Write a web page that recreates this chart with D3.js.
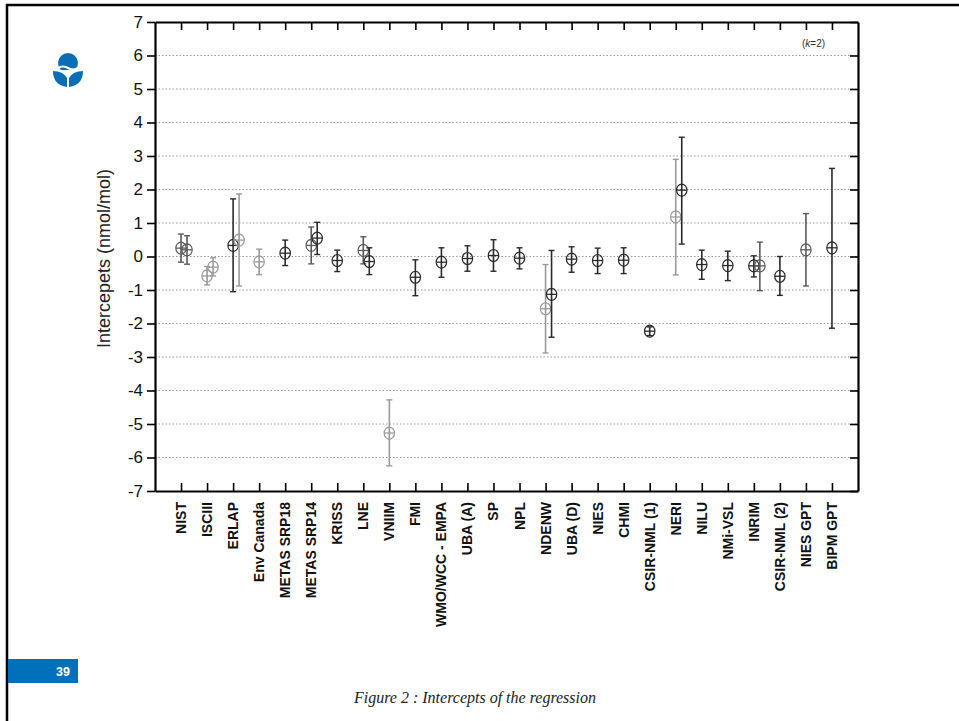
<!DOCTYPE html>
<html>
<head>
<meta charset="utf-8">
<script src="https://cdn.jsdelivr.net/npm/d3@7"></script>
<style>
  html, body { margin: 0; padding: 0; background: #fff; }
  svg { display: block; }
</style>
</head>
<body>
<svg id="chart"></svg>
<script>
// participants, in the order of the x axis
const categories = ["NIST", "ISCIII", "ERLAP", "Env Canada", "METAS SRP18", "METAS SRP14",
  "KRISS", "LNE", "VNIIM", "FMI", "WMO/WCC - EMPA", "UBA (A)", "SP", "NPL", "NDENW",
  "UBA (D)", "NIES", "CHMI", "CSIR-NML (1)", "NERI", "NILU", "NMi-VSL", "INRIM",
  "CSIR-NML (2)", "NIES GPT", "BIPM GPT"];

// first result of each participant, with its expanded uncertainty (k=2)
const value1 = [0.25, -0.58, 0.33, -0.16, 0.10, 0.33, -0.12, 0.18, -5.27, -0.62, -0.17, -0.06, 0.03,
  -0.05, -1.56, -0.08, -0.12, -0.11, -2.23, 1.18, -0.24, -0.27, -0.28, -0.59, 0.20, 0.26];
const low1 = [-0.17, -0.85, -1.05, -0.54, -0.27, -0.22, -0.45, -0.22, -6.25, -1.17, -0.62, -0.44, -0.44,
  -0.37, -2.88, -0.47, -0.51, -0.51, -2.36, -0.55, -0.68, -0.72, -0.61, -1.16, -0.88, -2.14];
const high1 = [0.67, -0.30, 1.72, 0.22, 0.49, 0.88, 0.19, 0.59, -4.28, -0.10, 0.26, 0.32, 0.50,
  0.26, -0.24, 0.29, 0.25, 0.26, -2.10, 2.90, 0.19, 0.16, 0.02, 0.00, 1.28, 2.63];
const tone1 = ["m", "g", "k", "g", "k", "m", "k", "m", "g", "k", "k", "k", "k",
  "k", "g", "k", "k", "k", "k", "g", "k", "k", "k", "k", "m", "k"];

// second result, where a participant reported two
const value2 = [0.20, -0.32, 0.49, null, null, 0.55, null, -0.15, null, null, null, null, null,
  null, -1.13, null, null, null, null, 1.98, null, null, -0.28, null, null, null];
const low2 = [-0.23, -0.58, -0.88, null, null, 0.06, null, -0.54, null, null, null, null, null,
  null, -2.41, null, null, null, null, 0.37, null, null, -1.02, null, null, null];
const high2 = [0.62, -0.04, 1.87, null, null, 1.02, null, 0.26, null, null, null, null, null,
  null, 0.18, null, null, null, null, 3.56, null, null, 0.43, null, null, null];
const tone2 = ["m", "g", "g", null, null, "k", null, "k", null, null, null, null, null,
  null, "k", null, null, null, null, "k", null, null, "m", null, null, null];

const yTicks = [-7, -6, -5, -4, -3, -2, -1, 0, 1, 2, 3, 4, 5, 6, 7];

const W = 959, H = 721;
const margin = {top: 22, right: 101, bottom: 230, left: 155};
const colors = {k: "#2a2a2a", m: "#5a5a5a", g: "#9a9a9a"};

const svg = d3.select("#chart").attr("width", W).attr("height", H);

// slide frame
svg.append("line").attr("x1", 6).attr("x2", W).attr("y1", 5).attr("y2", 5)
  .attr("stroke", "#000").attr("stroke-width", 2.5);
svg.append("line").attr("x1", 7).attr("x2", 7).attr("y1", 4).attr("y2", H)
  .attr("stroke", "#000").attr("stroke-width", 2.5);

// logo
const logo = svg.append("g").attr("transform", "translate(68,70)").attr("fill", "#0a6db5");
logo.append("circle").attr("cx", 0).attr("cy", -7).attr("r", 10);
logo.append("path").attr("d", "M-10,-2 Q-5,-5 0,-2 T10,-2").attr("stroke", "#fff")
  .attr("stroke-width", 2.2).attr("fill", "none");
logo.append("rect").attr("x", -12).attr("y", 0).attr("width", 24).attr("height", 3).attr("fill", "#fff");
logo.append("path").attr("d", "M-15,1 Q-15,15 -1,17 L-1,8 Q-5,1 -15,1 Z");
logo.append("path").attr("d", "M15,1 Q15,15 1,17 L1,8 Q5,1 15,1 Z");

// page number
svg.append("rect").attr("x", 8).attr("y", 659).attr("width", 70).attr("height", 24).attr("fill", "#0070ba");
svg.append("text").attr("x", 70).attr("y", 676).attr("text-anchor", "end")
  .attr("fill", "#fff").attr("font-family", "Liberation Sans, Arial, sans-serif")
  .attr("font-weight", "bold").attr("font-size", "12.5px").text("39");

// caption
svg.append("text").attr("x", 475).attr("y", 703).attr("text-anchor", "middle")
  .attr("font-family", "Liberation Serif, Times New Roman, serif").attr("font-style", "italic")
  .attr("font-size", "16px").attr("fill", "#222").text("Figure 2 : Intercepts of the regression");

const iw = W - margin.left - margin.right;
const ih = H - margin.top - margin.bottom;

const chart = svg.append("g").attr("transform", `translate(${margin.left},${margin.top})`);

const xscale = d3.scaleLinear().domain([0, categories.length + 1]).range([0, iw]);
const yscale = d3.scaleLinear().domain([-7, 7]).range([ih, 0]);
const catIdx = categories.map((d, i) => i + 1);

// grid
chart.append("g").selectAll("line")
  .data(yTicks.filter(t => t > -7 && t < 7))
  .join("line")
  .attr("x1", 0).attr("x2", iw)
  .attr("y1", d => yscale(d)).attr("y2", d => yscale(d))
  .attr("stroke", "#9a9a9a").attr("stroke-width", 1).attr("stroke-dasharray", "1.5,2");

// axes
const font = "Liberation Sans, Arial, sans-serif";
const yaxis = chart.append("g")
  .call(d3.axisLeft(yscale).tickValues(yTicks).tickFormat(d => String(d)).tickSize(8).tickSizeOuter(0).tickPadding(4));
yaxis.selectAll("text").attr("font-family", font).attr("font-size", "17px").attr("fill", "#111");
chart.append("g").attr("transform", `translate(${iw},0)`)
  .call(d3.axisLeft(yscale).tickValues(yTicks).tickFormat("").tickSize(8).tickSizeOuter(0));
chart.append("g").attr("transform", `translate(0,${ih})`)
  .call(d3.axisTop(xscale).tickValues(catIdx).tickFormat("").tickSize(8).tickSizeOuter(0));
chart.append("g")
  .call(d3.axisBottom(xscale).tickValues(catIdx).tickFormat("").tickSize(8).tickSizeOuter(0));
chart.selectAll(".domain").attr("stroke", "#000").attr("stroke-width", 2.2);
chart.selectAll(".tick line").attr("stroke", "#000").attr("stroke-width", 1.6);

// category labels
chart.append("g").selectAll("text")
  .data(categories)
  .join("text")
  .attr("transform", (d, i) => `translate(${xscale(i + 1) + 5},${ih + 11}) rotate(-90)`)
  .attr("text-anchor", "end")
  .attr("font-family", font).attr("font-weight", "bold").attr("font-size", "14px").attr("fill", "#111")
  .text(d => d);

// y label
svg.append("text")
  .attr("transform", `translate(110,${margin.top + ih / 2 + 2}) rotate(-90)`)
  .attr("text-anchor", "middle").attr("font-family", font).attr("font-size", "18px").attr("fill", "#222")
  .text("Intercepets (nmol/mol)");

// (k=2) note
const note = chart.append("text").attr("x", iw - 56).attr("y", 25)
  .attr("font-family", font).attr("font-size", "10px").attr("fill", "#333");
note.append("tspan").text("(");
note.append("tspan").attr("font-style", "italic").text("k");
note.append("tspan").text("=2)");

// points with error bars
const points = [];
categories.forEach((c, i) => {
  points.push({i: i + 1, dx: 0, v: value1[i], lo: low1[i], hi: high1[i], tone: tone1[i]});
  if (value2[i] !== null) {
    points.push({i: i + 1, dx: 6, v: value2[i], lo: low2[i], hi: high2[i], tone: tone2[i]});
  }
});

const marks = chart.append("g").selectAll("g")
  .data(points)
  .join("g")
  .attr("transform", d => `translate(${xscale(d.i) + d.dx},0)`)
  .attr("stroke", d => colors[d.tone])
  .attr("fill", "none");

marks.append("line")
  .attr("y1", d => yscale(d.lo)).attr("y2", d => yscale(d.hi))
  .attr("stroke-width", 1.6);
marks.append("line").attr("x1", -3).attr("x2", 3)
  .attr("y1", d => yscale(d.lo)).attr("y2", d => yscale(d.lo)).attr("stroke-width", 1.4);
marks.append("line").attr("x1", -3).attr("x2", 3)
  .attr("y1", d => yscale(d.hi)).attr("y2", d => yscale(d.hi)).attr("stroke-width", 1.4);
marks.append("ellipse")
  .attr("cy", d => yscale(d.v)).attr("rx", 5.2).attr("ry", 6)
  .attr("stroke-width", 1.2);
marks.append("line").attr("x1", -5).attr("x2", 5)
  .attr("y1", d => yscale(d.v)).attr("y2", d => yscale(d.v)).attr("stroke-width", 1.3);
</script>
</body>
</html>
